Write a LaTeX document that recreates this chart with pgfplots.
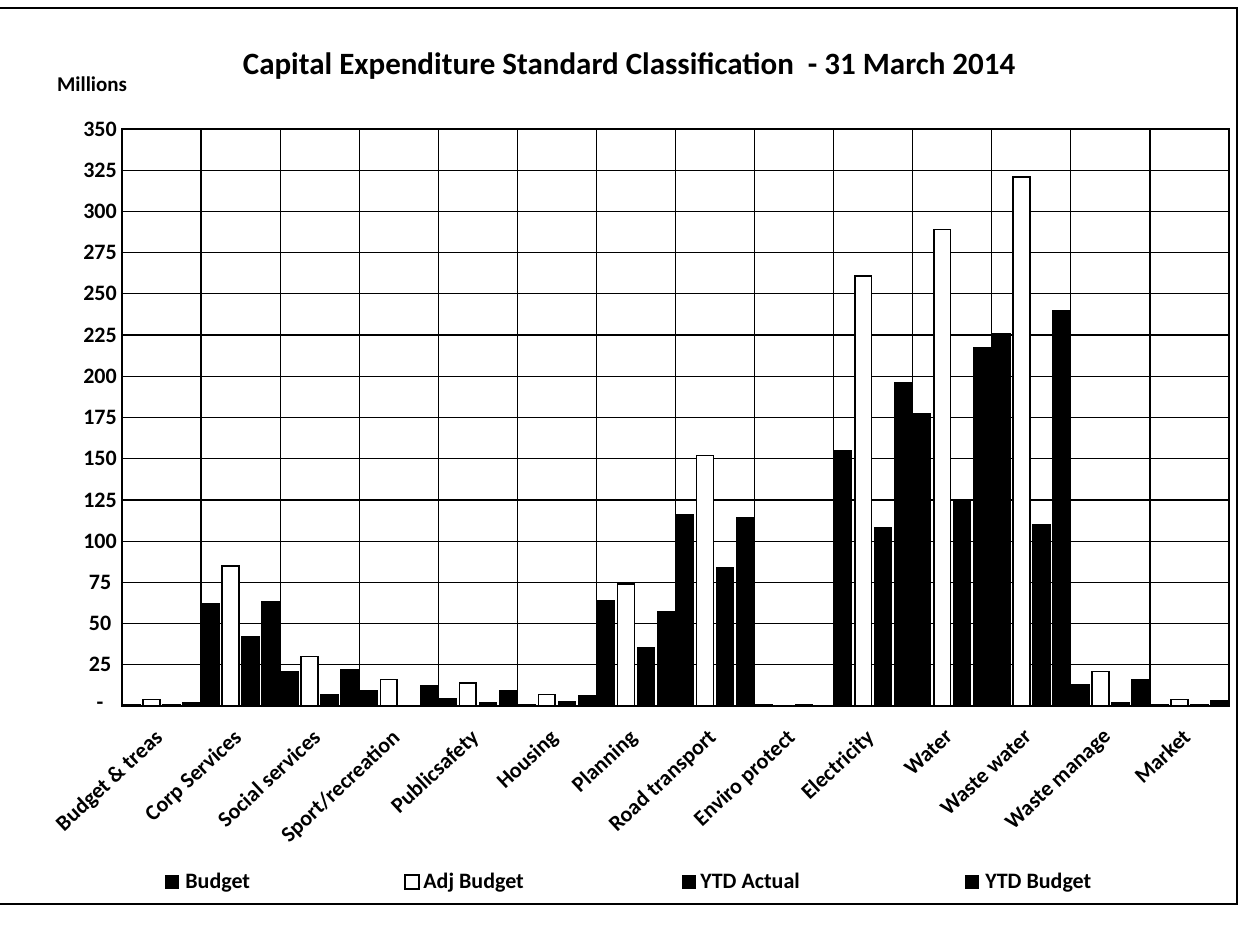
\documentclass[border=0pt]{standalone}
\usepackage{pgfplots}
\usepackage{pgfplotstable}
\pgfplotsset{compat=1.18}
\usepackage{fontspec}
\setmainfont{Carlito}

% Capital expenditure by standard classification, in millions
\pgfplotstableread{
cat budget adj ytdact ytdbud
0  1     4    0.5  2
1  62    85   42   63
2  21    30   6.5  22
3  9     16   0    12
4  4.5   14   2    9
5  1     7    2.5  6
6  64    74   35   57
7  116   152  84   114
8  0.5   0    0.5  0
9  155   261  108  196
10 177   289  125  217
11 226   321  110  240
12 13    21   2    16
13 0.5   4    0.5  3
}\capex

\begin{document}
\begin{tikzpicture}
\useasboundingbox (-61pt,-112.5pt) rectangle (558.5pt,353pt);
\begin{axis}[
  at={(0pt,0pt)}, anchor=south west,
  scale only axis, width=553.5pt, height=288.5pt,
  xmin=-0.5, xmax=13.5, ymin=0, ymax=350,
  ybar=1.6pt, bar width=8.4pt,
  xtick={0,...,13},
  xticklabels={Budget \& treas, Corp Services, Social services, Sport/recreation,
    Publicsafety, Housing, Planning, Road transport, Enviro protect,
    Electricity, Water, Waste water, Waste manage, Market},
  minor xtick={0.5,1.5,...,12.5},
  xminorgrids,
  ytick={0,25,...,350},
  yticklabels={-,25,50,75,100,125,150,175,200,225,250,275,300,325,350},
  ymajorgrids,
  major tick length=0pt, minor tick length=0pt,
  grid style={black, line width=0.6pt},
  minor grid style={black, line width=0.6pt},
  axis line style={black, line width=0.8pt},
  tick label style={font=\bfseries\fontsize{11}{13}\selectfont},
  xticklabel style={xshift=-4pt, yshift=-6pt, rotate=43, anchor=north east},
  yticklabel style={anchor=center, xshift=-11pt},
]
\addplot[fill=black, draw=black, line width=0.8pt] table[x=cat, y=budget] {\capex};
\addplot[fill=white, draw=black, line width=0.8pt] table[x=cat, y=adj] {\capex};
\addplot[fill=black, draw=black, line width=0.8pt] table[x=cat, y=ytdact] {\capex};
\addplot[fill=black, draw=black, line width=0.8pt] table[x=cat, y=ytdbud] {\capex};
\end{axis}

% chart frame
\draw[line width=0.8pt] (-61pt,349pt) -- (557.5pt,349pt) -- (557.5pt,-99pt) -- (-61pt,-99pt);

% titles
\node[font=\bfseries\fontsize{15.5}{18}\selectfont] at (253.5pt,320pt)
  {Capital Expenditure Standard Classification\ \ - 31 March 2014};
\node[font=\bfseries\fontsize{10.5}{12}\selectfont, anchor=west] at (-36pt,311pt) {Millions};

% legend
\begin{scope}[font=\bfseries\fontsize{11}{13}\selectfont]
\fill[black] (21.5pt,-91.5pt) rectangle +(7pt,7pt);
\node[anchor=base west, inner sep=0pt] at (31.5pt,-91.5pt) {Budget};
\draw[line width=0.6pt, fill=white] (141.5pt,-91.5pt) rectangle +(7pt,7pt);
\node[anchor=base west, inner sep=0pt] at (150.5pt,-91.5pt) {Adj Budget};
\fill[black] (280pt,-91.5pt) rectangle +(7pt,7pt);
\node[anchor=base west, inner sep=0pt] at (289pt,-91.5pt) {YTD Actual};
\fill[black] (421.5pt,-91.5pt) rectangle +(7pt,7pt);
\node[anchor=base west, inner sep=0pt] at (431.5pt,-91.5pt) {YTD Budget};
\end{scope}
\end{tikzpicture}
\end{document}
